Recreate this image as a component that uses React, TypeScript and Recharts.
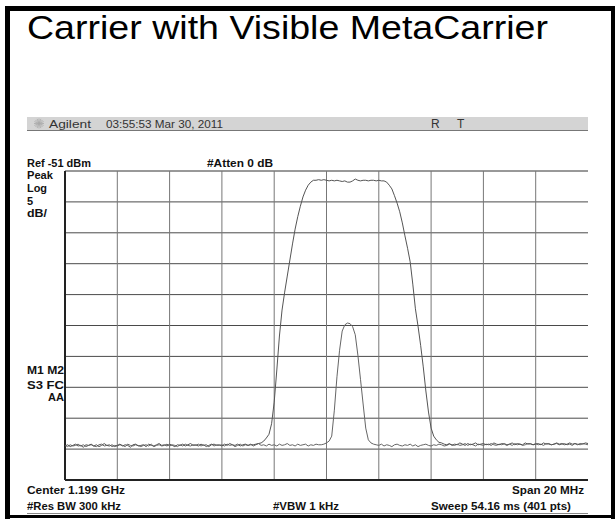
import { LineChart, Line, XAxis, YAxis, ReferenceLine } from "recharts";

// sweep: center 1199 MHz, span 20 MHz, one point every 0.1 MHz
const START_MHZ = 1189;
const STEP_MHZ = 0.1;

// wide carrier trace, dBm
const CARRIER_DBM = [
  -95.5, -95.3, -95.6, -95.4, -95.2, -95.5, -95.4, -95.7, -95.3, -95.4,
  -95.2, -95.5, -95.3, -95.6, -95.4, -95.1, -95.4, -95.5, -95.3, -95.6,
  -95.4, -95.2, -95.5, -95.3, -95.4, -95.7, -95.3, -95.2, -95.5, -95.4,
  -95.3, -95.6, -95.2, -95.4, -95.5, -95.3, -95.1, -95.4, -95.3, -95.5,
  -95.2, -95.4, -95.6, -95.3, -95.4, -95.2, -95.5, -95.3, -95.1, -95.4,
  -95.3, -95.5, -95.2, -95.4, -95.3, -95.6, -95.3, -95.2, -95.4, -95.3,
  -95.5, -95.2, -95.4, -95.1, -95.3, -95.4, -95.2, -95.5, -95.3, -95.2,
  -95.4, -95.3,
  -95.3, -95.2, -95.1, -95.0, -94.7, -94.2, -93.6, -91.9, -88.4, -83.2,
  -77.7, -73.5, -70.6, -68.0, -65.4, -62.8, -60.4, -58.4, -56.7, -55.2,
  -54.1, -53.3, -52.8, -52.5, -52.5, -52.4, -52.5, -52.4, -52.5, -52.6,
  -52.5, -52.6, -52.5, -52.6, -52.7, -52.6, -52.8, -52.8, -52.6, -52.3,
  -52.5, -52.6, -52.5, -52.5, -52.6, -52.5, -52.5, -52.6, -52.5, -52.6,
  -52.6, -52.8, -53.3, -53.9, -55.0, -56.2, -57.6, -59.4, -61.5, -63.5,
  -65.7, -69.3, -73.3, -76.1, -79.2, -82.7, -86.6, -90.0, -92.6, -93.9,
  -94.5, -94.9, -95.0, -95.2,
  -95.3, -95.1, -95.4, -95.2,
  -95.3, -95.0, -95.2, -95.4, -95.1, -95.3, -95.2, -95.0, -95.3, -95.2,
  -95.1, -95.3, -95.2, -95.4, -95.0, -95.2, -95.3, -95.1, -95.2, -95.4,
  -95.2, -95.0, -95.3, -95.1, -95.2, -95.3, -95.0, -95.2, -95.1, -95.3,
  -95.2, -95.1, -95.3, -95.0, -95.2, -95.1, -95.3, -95.2, -95.0, -95.2,
  -95.1, -95.3, -95.2, -95.0, -95.2, -95.1, -95.3, -95.1, -95.2, -95.0, -95.1,
];

// narrow metacarrier trace, dBm
const META_DBM = [
  -95.4, -95.6, -95.3, -95.5, -95.4, -95.2, -95.5, -95.3, -95.6, -95.4,
  -95.3, -95.5, -95.6, -95.3, -95.2, -95.5, -95.4, -95.3, -95.6, -95.4,
  -95.5, -95.3, -95.4, -95.6, -95.2, -95.4, -95.5, -95.3, -95.4, -95.6,
  -95.4, -95.3, -95.5, -95.2, -95.6, -95.4, -95.3, -95.5, -95.4, -95.2,
  -95.5, -95.3, -95.4, -95.6, -95.3, -95.5, -95.2, -95.4, -95.5, -95.3,
  -95.4, -95.2, -95.5, -95.3, -95.6, -95.4, -95.2, -95.5, -95.3, -95.4,
  -95.3, -95.5, -95.2, -95.4, -95.3, -95.6, -95.4, -95.2, -95.5, -95.3,
  -95.4, -95.2, -95.5, -95.3, -95.1, -95.4, -95.3, -95.5, -95.2, -95.4,
  -95.3, -95.5, -95.2, -95.4, -95.3, -95.1, -95.4, -95.3, -95.5, -95.2,
  -95.4, -95.3, -95.2, -95.5, -95.3, -95.4, -95.2, -95.3,
  -95.3, -95.2, -95.0, -94.7, -93.9, -89.7, -84.3, -80.0, -76.9, -75.9,
  -75.6, -75.7, -76.2, -77.5, -80.8, -84.7, -88.7, -92.6, -94.5, -95.0,
  -95.2, -95.3,
  -95.4, -95.2, -95.5, -95.3, -95.4, -95.6, -95.3, -95.2, -95.4, -95.5,
  -95.3, -95.4, -95.2, -95.5, -95.3, -95.6, -95.4, -95.3, -95.2, -95.4,
  -95.5, -95.3, -95.4, -95.2, -95.3, -95.5, -95.4, -95.2, -95.3, -95.4,
  -95.2, -95.4, -95.3, -95.1, -95.4, -95.2, -95.3, -95.5, -95.2, -95.3,
  -95.4, -95.2, -95.3, -95.1, -95.3, -95.4, -95.2, -95.3, -95.1, -95.3,
  -95.2, -95.4, -95.1, -95.3, -95.2, -95.4, -95.3, -95.1, -95.2, -95.3,
  -95.1, -95.3, -95.2, -95.4, -95.1, -95.2, -95.3, -95.2, -95.1, -95.3,
  -95.2, -95.1, -95.3, -95.2, -95.4, -95.1, -95.2, -95.3, -95.1, -95.2, -95.3,
];

const FREQ_DOMAIN = [1189, 1209];
const FREQ_GRID = [1191, 1193, 1195, 1197, 1199, 1201, 1203, 1205, 1207];
const LEVEL_DOMAIN = [-101, -51];
const LEVEL_GRID = [-96, -91, -86, -81, -76, -71, -66, -61, -56, -51];

const data = CARRIER_DBM.map((v, i) => ({
  f: +(START_MHZ + i * STEP_MHZ).toFixed(1),
  carrier: v,
  meta: META_DBM[i],
}));

const FONT = "'Liberation Sans', Arial, sans-serif";

function Label({ x, y, children, len, anchor = "start", bold = true, size = 11, fill = "#111" }: any) {
  return (
    <text
      x={x}
      y={y}
      fontFamily={FONT}
      fontSize={size}
      fontWeight={bold ? 700 : 400}
      fill={fill}
      textAnchor={anchor}
      textLength={len}
      lengthAdjust="spacingAndGlyphs"
    >
      {children}
    </text>
  );
}

function Overlay() {
  const rays = [0, 22.5, 45, 67.5, 90, 112.5, 135, 157.5];
  return (
    <svg width={615} height={519} style={{ position: "absolute", left: 0, top: 0, pointerEvents: "none" }}>
      {/* slide frame */}
      <rect x={5} y={6} width={610} height={5} fill="#000" />
      <rect x={5} y={6} width={5} height={513} fill="#000" />
      <rect x={611} y={6} width={4} height={513} fill="#000" />
      <rect x={5} y={515} width={610} height={3} fill="#000" />

      <text x={27} y={39} fontFamily={FONT} fontSize={33} fill="#000" textLength={521} lengthAdjust="spacingAndGlyphs">
        Carrier with Visible MetaCarrier
      </text>

      {/* instrument title bar */}
      <rect x={27} y={117} width={561} height={13} fill="#d4d4d4" />
      <line x1={27} y1={130.5} x2={588} y2={130.5} stroke="#777" />
      {rays.map((a) => (
        <line
          key={a}
          x1={39 - 5 * Math.cos((a * Math.PI) / 180)}
          y1={123.5 - 5 * Math.sin((a * Math.PI) / 180)}
          x2={39 + 5 * Math.cos((a * Math.PI) / 180)}
          y2={123.5 + 5 * Math.sin((a * Math.PI) / 180)}
          stroke="#aaa"
          strokeWidth={0.8}
        />
      ))}
      <Label x={49} y={127.5} len={42} bold={false} fill="#333">Agilent</Label>
      <Label x={106} y={127.5} len={117} bold={false} size={10.5} fill="#333">03:55:53  Mar 30, 2011</Label>
      <Label x={431} y={128} bold={false} size={12} fill="#333">R</Label>
      <Label x={457} y={128} bold={false} size={12} fill="#333">T</Label>

      <Label x={27} y={167} len={64}>Ref -51 dBm</Label>
      <Label x={207} y={167} len={66}>#Atten 0 dB</Label>
      <Label x={27} y={179} len={26}>Peak</Label>
      <Label x={27} y={192} len={20}>Log</Label>
      <Label x={27} y={205}>5</Label>
      <Label x={27} y={217} len={20}>dB/</Label>
      <Label x={27} y={374} len={37}>M1 M2</Label>
      <Label x={27} y={389} len={37}>S3 FC</Label>
      <Label x={64} y={401} anchor="end">AA</Label>

      <Label x={27} y={494} len={98}>Center 1.199 GHz</Label>
      <Label x={584} y={494} anchor="end" len={72}>Span 20 MHz</Label>
      <Label x={27} y={510} len={94}>#Res BW 300 kHz</Label>
      <Label x={273} y={510} len={66}>#VBW 1 kHz</Label>
      <Label x={571} y={510} anchor="end" len={140}>Sweep 54.16 ms (401 pts)</Label>
      <line x1={27} y1={513.5} x2={588} y2={513.5} stroke="#888" />
    </svg>
  );
}

export default function App() {
  return (
    <div style={{ position: "absolute", left: 0, top: 0, width: 615, height: 519, background: "#fff" }}>
      <div style={{ position: "absolute", left: 0, top: 0 }}>
        <LineChart width={615} height={519} data={data} margin={{ top: 171, right: 27, bottom: 39, left: 65 }}>
          <XAxis dataKey="f" type="number" domain={FREQ_DOMAIN} ticks={FREQ_GRID} hide />
          <YAxis type="number" domain={LEVEL_DOMAIN} ticks={LEVEL_GRID} hide />
          {LEVEL_GRID.map((v) => (
            <ReferenceLine key={`h${v}`} y={v} stroke={v === -51 ? "#333" : "#4a4a4a"} strokeWidth={1} />
          ))}
          {FREQ_GRID.map((v) => (
            <ReferenceLine key={`v${v}`} x={v} stroke="#777" strokeWidth={1} />
          ))}
          <ReferenceLine x={FREQ_DOMAIN[0]} stroke="#222" strokeWidth={2} />
          <ReferenceLine y={LEVEL_DOMAIN[0]} stroke="#222" strokeWidth={2} />
          <Line dataKey="meta" type="linear" stroke="#666" strokeWidth={1} dot={false} isAnimationActive={false} />
          <Line dataKey="carrier" type="linear" stroke="#555" strokeWidth={1} dot={false} isAnimationActive={false} />
        </LineChart>
      </div>
      <Overlay />
    </div>
  );
}
